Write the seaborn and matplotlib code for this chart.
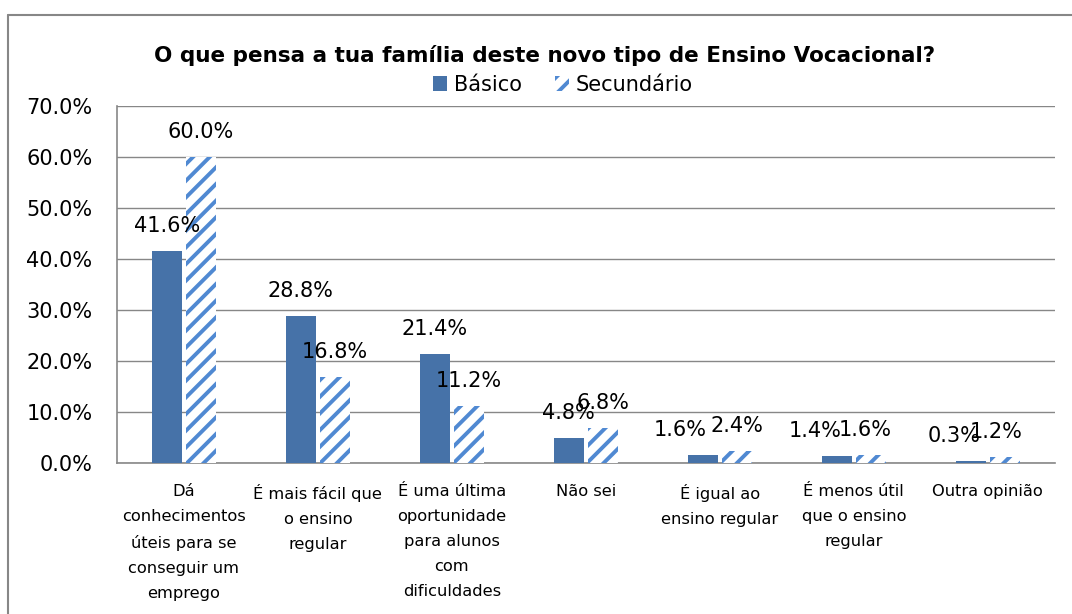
import pandas as pd
import seaborn as sns
import matplotlib.pyplot as plt
import matplotlib.ticker as ticker
from matplotlib.patches import Patch
from matplotlib.lines import Line2D

categories = [
    "Dá\nconhecimentos\núteis para se\nconseguir um\nemprego",
    "É mais fácil que\no ensino\nregular",
    "É uma última\noportunidade\npara alunos\ncom\ndificuldades",
    "Não sei",
    "É igual ao\nensino regular",
    "É menos útil\nque o ensino\nregular",
    "Outra opinião",
]
basico = [41.6, 28.8, 21.4, 4.8, 1.6, 1.4, 0.3]
secundario = [60.0, 16.8, 11.2, 6.8, 2.4, 1.6, 1.2]
series_names = ["Básico", "Secundário"]
title = "O que pensa a tua família deste novo tipo de Ensino Vocacional?"

# horizontal nudge (points) of the data labels, like the source chart did to dodge overlaps
basico_nudge = [0, 0, 0, 0, -16, -16, -12]
secundario_nudge = [0, 0, 0, 0, 0, -4, -6]

SOLID = "#4672A8"
HATCH = "#5089D2"
GRID = "#878787"

sns.set_style("white")
plt.rcParams["font.family"] = ["DejaVu Sans"]
plt.rcParams["text.color"] = "black"
plt.rcParams["xtick.color"] = "black"
plt.rcParams["ytick.color"] = "black"
plt.rcParams["hatch.linewidth"] = 2.8

df = pd.DataFrame({
    "categoria": categories * 2,
    "valor": basico + secundario,
    "serie": [series_names[0]] * len(categories) + [series_names[1]] * len(categories),
})

fig = plt.figure(figsize=(10.72, 6.14), dpi=100)
ax = fig.add_axes([0.109, 0.246, 0.875, 0.581])

sns.barplot(
    df, x="categoria", y="valor", hue="serie",
    palette=[SOLID, "white"], width=0.507, gap=0.118,
    legend=False, ax=ax, zorder=3,
)

n = len(categories)
for i, bar in enumerate(ax.patches[:2 * n]):
    if i < n:
        bar.set_facecolor(SOLID)
        bar.set_edgecolor(SOLID)
        bar.set_linewidth(0)
    else:
        bar.set_facecolor("white")
        bar.set_edgecolor(HATCH)
        bar.set_hatch("//")
        bar.set_linewidth(0)

# data labels
for cont, nudge in zip(ax.containers, [basico_nudge, secundario_nudge]):
    for bar, dx in zip(cont, nudge):
        h = bar.get_height()
        ax.annotate(f"{h:.1f}%", (bar.get_x() + bar.get_width() / 2, h),
                    xytext=(dx, 18), textcoords="offset points",
                    ha="center", va="center", fontsize=15, color="black", zorder=5)

ax.set_ylim(0, 70)
ax.set_xlim(-0.5, n - 0.5)
ax.yaxis.set_major_locator(ticker.MultipleLocator(10))
ax.yaxis.set_major_formatter(ticker.FuncFormatter(lambda v, p: f"{v:.1f}%"))
ax.grid(axis="y", color=GRID, linewidth=1, zorder=0)
ax.set_axisbelow(True)
ax.set(xlabel="", ylabel="")
for s in ["top", "right"]:
    ax.spines[s].set_visible(False)
for s in ["left", "bottom"]:
    ax.spines[s].set_color(GRID)
    ax.spines[s].set_linewidth(1.2)
ax.tick_params(axis="y", length=0, pad=17.5, labelsize=15)
ax.tick_params(axis="x", length=0, pad=15, labelsize=11.7)
for lab in ax.get_xticklabels():
    lab.set_multialignment("center")
    lab.set_linespacing(1.84)

fig.text(0.508, 0.909, title, ha="center", va="center", fontsize=15.5, fontweight="bold")

handles = [
    Patch(facecolor=SOLID, edgecolor=SOLID, linewidth=0),
    Patch(facecolor="white", edgecolor=HATCH, hatch="//", linewidth=0),
]
fig.legend(handles, series_names, loc="center", bbox_to_anchor=(0.525, 0.862),
           ncol=2, frameon=False, fontsize=15, handlelength=0.7, handleheight=0.7,
           handletextpad=0.3, columnspacing=1.6, borderpad=0)

# outer chart border
fig.add_artist(Line2D([8 / 1072, 8 / 1072], [0, 1 - 15 / 614], transform=fig.transFigure, color=GRID, linewidth=1.5))
fig.add_artist(Line2D([8 / 1072, 1], [1 - 15 / 614, 1 - 15 / 614], transform=fig.transFigure, color=GRID, linewidth=1.5))

plt.savefig("out.png", dpi=100)
